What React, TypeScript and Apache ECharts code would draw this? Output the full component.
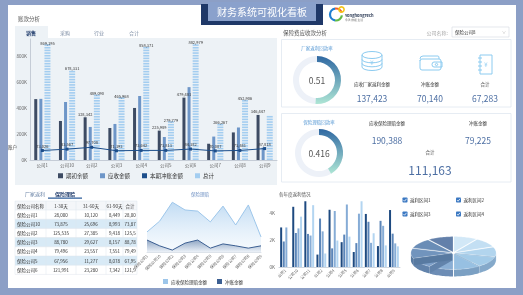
import React, { useEffect, useRef } from 'react';
import * as echarts from 'echarts';

// ---------- data ----------
const mainCats = ['公司1', '公司10', '公司2', '公司3', '公司4', '公司5', '公司6', '公司7', '公司8', '公司9'];
const openingBalance = [468000, 300000, 328342, 246000, 400000, 225989, 479481, 125000, 212000, 346447];
const receivable = [470000, 446000, 254000, 277000, 492000, 177000, 560000, 180000, 250000, 95000];
const totals = [869195, 678331, 489090, 465968, 858371, 279779, 882979, 266267, 452906, 330000];
const writeOff = [73026, 83567, 97708, 71193, 73642, 73813, 84182, 70007, 73441, 87818];
const openingLabeled = [2, 5, 6, 9];
const totalHidden = [9];

const claimCats = ['保险公司1', '保险公司10', '保险公司2', '保险公司3', '保险公司4', '保险公司5', '保险公司6', '保险公司7', '保险公司8', '保险公司9'];
const claimReceivable = [52000, 80000, 129000, 109000, 106000, 78000, 119000, 70000, 122000, 39000];
const claimWriteOff = [31000, 16000, 5000, 23000, 31000, 10000, 21000, 16000, 10000, 16000];

const rebateCats = ['公司1', '公司10', '公司11', '公司2', '公司4', '公司5', '公司6', '公司7', '公司8', '公司9'];
const rebate1 = [2930, 4460, 4870, 920, 4240, 1840, 1110, 3930, 1550, 4220];
const rebate2 = [1890, 2520, 2450, 3590, 1380, 2400, 1770, 3350, 3420, 2470];
const rebate3 = [2930, 2860, 2330, 2640, 4150, 4630, 3950, 1790, 3050, 1750];
const rebate4 = [0, 3730, 4580, 1000, 1960, 2250, 4870, 2500, 1600, 1530];
const rebateNames = ['返利区间1', '返利区间2', '返利区间3', '返利区间4'];

const pieValues = [33, 35, 36, 39, 37, 34, 36, 37, 37, 36];

const rebateRate = 0.51;
const claimRate = 0.416;
const rebateCard = [137423, 70140, 67283];
const claimCard = [190388, 79225, 111163];

const tableHeader = ['保险公司名称', '1-30天', '31-60天', '61-90天', '合计'];
const tableNames = ['保险公司1', '保险公司10', '保险公司2', '保险公司3', '保险公司4', '保险公司5', '保险公司6'];
const age1to30 = [28000, 73875, 125535, 88780, 79496, 67956, 121991];
const age31to60 = [10120, 25696, 27385, 29627, 23557, 11277, 23280];
const age61to90 = [8449, 8993, 9418, 8157, 7551, 8078, 7342];
const ageTotal = [28000, 73875, 125535, 88780, 79496, 67956, 121991];

const tabs = ['销售', '采购', '行业', '合计'];

// ---------- helpers ----------
const FONT = '"Noto Sans CJK SC", "Noto Sans", sans-serif';
const fmt = (v: number) => v.toLocaleString('en-US');

let registered = false;
function registerShapes() {
  if (registered) return;
  registered = true;
  try {
    echarts.graphic.registerShape('dbIcon', echarts.graphic.extendPath(
      'M0,4 A10,3.5 0 1,0 20,4 A10,3.5 0 1,0 0,4 Z M0,4 L0,16 A10,3.5 0 0,0 20,16 L20,4 M0,8.3 A10,3.5 0 0,0 20,8.3 M0,12.3 A10,3.5 0 0,0 20,12.3', {}) as any);
    echarts.graphic.registerShape('walletIcon', echarts.graphic.extendPath(
      'M2,4 Q2,1 5,1 L20,1 Q21,1 21,3 L21,4 M2,5 L2,13 Q2,15 4,15 L21,15 Q23,15 23,13 L23,6 Q23,4 21,4 L4,4 Q2,4 2,6 M16,7 L24,7 L24,12 L16,12 Q14,12 14,9.5 Q14,7 16,7 Z', {}) as any);
    echarts.graphic.registerShape('bookIcon', echarts.graphic.extendPath(
      'M3,0 L15,0 L15,19 L3,19 Z M1,3 L5,3 M1,7 L5,7 M1,11 L5,11 M1,15 L5,15', {}) as any);
  } catch (e) {
    // ignore
  }
}

function T(x: number, y: number, text: string, size: number, fill: string, align = 'left', weight: any = 'normal', extra: any = {}) {
  return {
    type: 'text', x, y, silent: true,
    style: {
      text, fill, fontSize: size, fontFamily: FONT, fontWeight: weight,
      align, textAlign: align, verticalAlign: 'middle', textVerticalAlign: 'middle', ...extra,
    },
  };
}

function R(x: number, y: number, w: number, h: number, fill: string, stroke?: string, lw = 0.6) {
  return {
    type: 'rect', silent: true, shape: { x, y, width: w, height: h },
    style: { fill, stroke: stroke || 'none', lineWidth: stroke ? lw : 0 },
  };
}

function buildGraphics() {
  const g: any[] = [];
  // frame
  g.push(R(0, 0, 523, 295, '#8c9fc6'));
  g.push(R(8, 5, 508, 283, '#ffffff'));
  // title
  g.push(R(201, 4, 122, 21, '#1f3868'));
  g.push(R(208, 2, 108, 19, '#8aa1cc'));
  g.push(T(262, 11.5, '财务系统可视化看板', 10, '#ffffff', 'center'));
  // logo
  g.push({ type: 'arc', silent: true, shape: { cx: 336, cy: 14.5, r: 6, startAngle: Math.PI * 0.55, endAngle: Math.PI * 1.45 }, style: { stroke: '#1f7fd0', lineWidth: 2.2, fill: 'none' } });
  g.push({ type: 'arc', silent: true, shape: { cx: 336, cy: 14.5, r: 6, startAngle: Math.PI * 1.45, endAngle: Math.PI * 1.9 }, style: { stroke: '#ee5a2c', lineWidth: 2.2, fill: 'none' } });
  g.push({ type: 'arc', silent: true, shape: { cx: 336, cy: 14.5, r: 6, startAngle: Math.PI * 0.05, endAngle: Math.PI * 0.55 }, style: { stroke: '#62bb46', lineWidth: 2.2, fill: 'none' } });
  g.push({ type: 'circle', silent: true, shape: { cx: 341.5, cy: 9.5, r: 2.6 }, style: { stroke: '#f5c518', lineWidth: 1.6, fill: 'none' } });
  g.push(T(345, 15, 'YonghongTech', 4, '#2b3a55', 'left', 'bold'));
  g.push(T(345, 19.5, '永洪 数据 生活', 2.8, '#777'));

  // left top section
  g.push(T(18, 19, '账款分析', 5.5, '#555'));
  g.push(R(15, 26, 33, 12, '#edf2f6'));
  const tabX = [31, 65, 99, 134];
  tabs.forEach((t, i) => g.push(T(tabX[i], 32.5, t, 5, i === 0 ? '#1f3b6b' : '#7b8ba3', 'center', i === 0 ? 'bold' : 'normal')));
  g.push(R(15, 38, 262, 147, '#edf2f6'));
  g.push(T(8, 147, '账户', 4.5, '#444'));

  // right top section
  g.push(T(283, 33, '保险费应收款分析', 5.5, '#555'));
  g.push(T(448, 32, '公司名称:', 5, '#aaaaaa', 'right'));
  g.push(R(452, 27, 57, 10, '#ffffff', '#d3d9e1'));
  g.push(T(455, 32, '保险公司8', 4.5, '#333'));
  g.push(T(504, 32, '∨', 4, '#aaa', 'center'));

  // cards
  g.push(R(281.5, 39.5, 229.5, 67.5, '#ffffff', '#dfe7f0', 0.8));
  g.push(R(281.5, 113.5, 229.5, 68.5, '#ffffff', '#dfe7f0', 0.8));
  g.push(T(317, 48, '厂家返利回款率', 4.5, '#5b9bd5', 'center'));
  g.push(T(319, 122, '保险理赔回款率', 4.5, '#5b9bd5', 'center'));

  const iconStyle = { fill: 'none', stroke: '#8ccbf0', lineWidth: 1 };
  g.push({ type: 'dbIcon', x: 362, y: 51, silent: true, style: iconStyle });
  g.push(T(372, 62.5, '¥', 6, '#8ccbf0', 'center'));
  g.push({ type: 'walletIcon', x: 418, y: 55, silent: true, style: iconStyle });
  g.push({ type: 'circle', silent: true, shape: { cx: 436.5, cy: 64.5, r: 1.2 }, style: iconStyle });
  g.push({ type: 'bookIcon', x: 477, y: 55, silent: true, style: iconStyle });
  g.push(T(486, 64.5, '¥', 6, '#8ccbf0', 'center'));

  const c1Labels = ['应收厂家返利金额', '冲账金额', '合计'];
  const c1X = [372, 430, 485];
  c1Labels.forEach((l, i) => {
    g.push(T(c1X[i], 84, l, 4.5, '#333', 'center'));
    g.push(T(c1X[i], 97.5, fmt(rebateCard[i]), 8.5, '#4d6fa3', 'center'));
  });
  g.push(T(387, 123, '应收保险理赔金额', 4.5, '#333', 'center'));
  g.push(T(387, 140, fmt(claimCard[0]), 8.5, '#4d6fa3', 'center'));
  g.push(T(478, 123, '冲账金额', 4.5, '#333', 'center'));
  g.push(T(478, 140, fmt(claimCard[1]), 8.5, '#4d6fa3', 'center'));
  g.push(T(430, 152, '合计', 4.5, '#333', 'center'));
  g.push(T(430, 169, fmt(claimCard[2]), 12, '#4d6fa3', 'center'));

  // bottom-left table
  g.push(T(35, 193.5, '厂家返利', 5, '#6d86a8', 'center'));
  g.push(T(65, 193.5, '保险理赔', 5, '#1f3b6b', 'center', 'bold'));
  g.push(R(48, 197.5, 34, 1.3, '#2d5d9a'));
  const top = 201, headH = 9, rowH = 9.2;
  const colX = [15, 46, 76, 106, 123, 137];
  g.push(R(15, top, 122, headH, '#f4f6f9'));
  tableNames.forEach((_, r) => {
    if (r % 2 === 1) g.push(R(15, top + headH + r * rowH, 122, rowH, '#d8eaf6'));
  });
  const tableBottom = top + headH + tableNames.length * rowH;
  for (let r = 0; r <= tableNames.length + 1; r++) {
    const y = r === 0 ? top : top + headH + (r - 1) * rowH;
    g.push({ type: 'line', silent: true, shape: { x1: 15, y1: y, x2: 137, y2: y }, style: { stroke: '#dfe5ec', lineWidth: 0.5 } });
  }
  colX.forEach((x) => g.push({ type: 'line', silent: true, shape: { x1: x, y1: top, x2: x, y2: tableBottom }, style: { stroke: '#dfe5ec', lineWidth: 0.5 } }));
  const colC = [17, 61, 91, 114.5, 130];
  tableHeader.forEach((h, i) => g.push(T(colC[i], top + headH / 2, h, 4.5, '#333', i === 0 ? 'left' : 'center')));
  tableNames.forEach((n, r) => {
    const y = top + headH + r * rowH + rowH / 2;
    g.push(T(17, y, n, 4.5, '#333'));
    g.push(T(61, y, fmt(age1to30[r]), 4.5, '#333', 'center'));
    g.push(T(91, y, fmt(age31to60[r]), 4.5, '#333', 'center'));
    g.push(T(114.5, y, fmt(age61to90[r]), 4.5, '#333', 'center'));
    g.push(T(124.5, y, fmt(ageTotal[r]), 4.5, '#333', 'left', 'normal', { width: 12.5, overflow: 'truncate', ellipsis: '' }));
  });

  // bottom middle / right titles
  g.push(T(200, 194, '保险理赔', 4.5, '#6d8fc2', 'center'));
  g.push(T(279, 194, '各年度返利情况', 4.5, '#555'));

  // checkboxes
  const cbPos = [[402.5, 197.5], [456, 197.5], [402.5, 211.5], [456, 211.5]];
  rebateNames.forEach((n, i) => {
    const [x, y] = cbPos[i];
    g.push({ type: 'rect', silent: true, shape: { x, y, width: 5, height: 5, r: 0.8 }, style: { fill: '#3b78c2' } });
    g.push({ type: 'polyline', silent: true, shape: { points: [[x + 1, y + 2.6], [x + 2.1, y + 3.7], [x + 4, y + 1.3]] }, style: { stroke: '#fff', lineWidth: 0.8, fill: 'none' } });
    g.push(T(x + 7.5, y + 2.6, n, 4.5, '#333'));
  });
  return g;
}

const PIE_CX = 453.5, PIE_CY = 253, PIE_RX = 41, PIE_RY = 15.5, PIE_H = 7, EXPLODE = 1.6;
const pieTopColors = ['#d2e8f7', '#c3dff3', '#b2d5ee', '#a3cbe8', '#97c0e2', '#8aaed4', '#7d9fc8', '#7194bd', '#6a8db6', '#6380aa'];
const pieSideColors = ['#a9c6de', '#9cbcd8', '#8fb2d1', '#85a9ca', '#7ba0c3', '#6d8db5', '#6283ab', '#587aa1', '#52729a', '#4d6b92'];

function buildOption() {
  const pieTotal = pieValues.reduce((a, b) => a + b, 0);
  const pieStart: number[] = [];
  pieValues.reduce((acc, v, i) => { pieStart[i] = acc; return acc + v; }, 0);

  const gaugeBase = (center: number[], value: number, text: string) => ({
    type: 'gauge', center, radius: 24, startAngle: 90, endAngle: -270, min: 0, max: 1,
    pointer: { show: false }, axisTick: { show: false }, splitLine: { show: false }, axisLabel: { show: false },
    title: { show: false }, anchor: { show: false },
    axisLine: { lineStyle: { width: 6, color: [[1, '#edf1f8']] } },
    progress: {
      show: true, width: 6,
      itemStyle: {
        color: new echarts.graphic.LinearGradient(0, 0, 0, 1, [
          { offset: 0, color: '#2f68a2' }, { offset: 1, color: '#aee6d5' },
        ]),
      },
    },
    detail: { show: true, formatter: () => text, fontSize: 8.5, color: '#555', offsetCenter: [0, 0], fontFamily: FONT, fontWeight: 'normal' },
    data: [{ value }],
  });

  const smallAxisLabel = { fontSize: 4.5, color: '#666', fontFamily: FONT };

  return {
    animation: false,
    textStyle: { fontFamily: FONT },
    graphic: { elements: buildGraphics() },
    legend: [
      {
        data: ['期初余额', '应收金额', '本期冲账金额', '总计'], left: 58, top: 173, icon: 'rect',
        itemWidth: 5, itemHeight: 5, itemGap: 12, textStyle: { fontSize: 5.5, color: '#333', padding: [0, 0, 0, -2] },
        padding: 0,
      },
      {
        data: ['应收保险理赔金额', '冲账金额'], left: 163, top: 279, icon: 'rect',
        itemWidth: 5, itemHeight: 5, itemGap: 10, textStyle: { fontSize: 4.5, color: '#333', padding: [0, 0, 0, -2] },
        padding: 0,
      },
    ],
    grid: [
      { left: 30, right: 246, top: 39, bottom: 135 },
      { left: 147, right: 262, top: 198, bottom: 43 },
      { left: 279, right: 123, top: 199.5, bottom: 28 },
    ],
    xAxis: [
      {
        type: 'category', gridIndex: 0, data: mainCats,
        axisLine: { lineStyle: { color: '#c5ccd6' } }, axisTick: { show: false },
        axisLabel: { ...smallAxisLabel, margin: 3 },
      },
      {
        type: 'category', gridIndex: 1, data: claimCats, boundaryGap: false,
        axisLine: { lineStyle: { color: '#dde3ea' } }, axisTick: { show: false },
        axisLabel: { fontSize: 4, color: '#666', rotate: 45, margin: 3, interval: 0 },
      },
      {
        type: 'category', gridIndex: 2, data: rebateCats,
        axisLine: { lineStyle: { color: '#d0d6de' } }, axisTick: { show: false },
        axisLabel: { fontSize: 4, color: '#666', rotate: 45, margin: 2.5, interval: 0 },
      },
    ],
    yAxis: [
      {
        type: 'value', gridIndex: 0, min: 0, max: 930000, interval: 200000,
        axisLine: { show: true, lineStyle: { color: '#c5ccd6' } }, splitLine: { show: false },
        axisLabel: { ...smallAxisLabel, margin: 3, showMaxLabel: false, formatter: (v: number) => v / 1000 + 'K' },
      },
      { type: 'value', gridIndex: 1, min: 0, max: 140000, show: false },
      {
        type: 'value', gridIndex: 2, min: 0, max: 5000, interval: 2000,
        axisLine: { show: false }, splitLine: { show: false }, axisTick: { show: false },
        axisLabel: { ...smallAxisLabel, margin: 4, showMaxLabel: false, formatter: (v: number) => v / 1000 + 'K' },
      },
    ],
    series: [
      {
        name: '期初余额', type: 'bar', xAxisIndex: 0, yAxisIndex: 0, barWidth: 3, barGap: '70%',
        itemStyle: { color: '#3d4b63' },
        data: openingBalance.map((v, i) => ({
          value: v,
          label: { show: openingLabeled.includes(i), position: 'top', distance: 1.5, fontSize: 4, color: '#333', formatter: fmt(v) },
        })),
      },
      {
        name: '应收金额', type: 'bar', xAxisIndex: 0, yAxisIndex: 0, barWidth: 3, barGap: '70%',
        itemStyle: { color: '#6e96c8' }, data: receivable,
      },
      {
        name: '总计标签', type: 'bar', xAxisIndex: 0, yAxisIndex: 0, barWidth: 6, barGap: '70%',
        itemStyle: { color: 'rgba(0,0,0,0)' },
        data: totals.map((v, i) => ({
          value: v,
          label: { show: !totalHidden.includes(i), position: 'top', distance: 1.5, fontSize: 4, color: '#333', formatter: fmt(v) },
        })),
      },
      {
        name: '总计', type: 'pictorialBar', xAxisIndex: 0, yAxisIndex: 0, barWidth: 6,
        symbol: 'rect', symbolRepeat: true, symbolSize: [6, 1.6], symbolMargin: 0.55, symbolOffset: [5.1, 0],
        symbolPosition: 'start', itemStyle: { color: '#a3cdf0' }, data: totals, z: 1,
      },
      {
        name: '本期冲账金额', type: 'line', xAxisIndex: 0, yAxisIndex: 0, data: writeOff,
        symbol: 'rect', symbolSize: 3, lineStyle: { width: 1, color: '#1c4e8b' }, itemStyle: { color: '#1c4e8b' },
        label: { show: true, position: 'top', distance: 1.5, fontSize: 4, color: '#333', formatter: (p: any) => fmt(p.value) },
        z: 5,
      },
      {
        name: '应收保险理赔金额', type: 'line', xAxisIndex: 1, yAxisIndex: 1, data: claimReceivable,
        symbol: 'none', lineStyle: { width: 1, color: '#9dc6ea' }, itemStyle: { color: '#9dc6ea' },
        areaStyle: {
          color: new echarts.graphic.LinearGradient(0, 0, 0, 1, [
            { offset: 0, color: 'rgba(150,195,235,0.85)' }, { offset: 1, color: 'rgba(225,238,250,0.4)' },
          ]),
        },
      },
      {
        name: '冲账金额', type: 'line', xAxisIndex: 1, yAxisIndex: 1, data: claimWriteOff,
        symbol: 'none', lineStyle: { width: 1, color: '#3c5f92' }, itemStyle: { color: '#3c5f92' },
        areaStyle: {
          color: new echarts.graphic.LinearGradient(0, 0, 0, 1, [
            { offset: 0, color: 'rgba(60,95,146,0.75)' }, { offset: 1, color: 'rgba(60,95,146,0.08)' },
          ]),
        },
      },
      ...[rebate1, rebate2, rebate3, rebate4].map((d, i) => ({
        name: rebateNames[i], type: 'bar', xAxisIndex: 2, yAxisIndex: 2, data: d, barWidth: 2, barGap: '30%',
        itemStyle: { color: ['#1e4a80', '#5b85b8', '#86acd6', '#b3d5f1'][i] },
      })),
      gaugeBase([317, 80], rebateRate, String(rebateRate)),
      gaugeBase([319, 153], claimRate, String(claimRate)),
      {
        type: 'custom', coordinateSystem: 'none', silent: true,
        data: pieValues.map((v, i) => [i, v]),
        renderItem: (params: any, api: any) => {
          const i = params.dataIndex;
          const v = api.value(1);
          const a0 = (pieStart[i] / pieTotal) * Math.PI * 2;
          const a1 = ((pieStart[i] + v) / pieTotal) * Math.PI * 2;
          const mid = (a0 + a1) / 2;
          const cx = PIE_CX + Math.sin(mid) * EXPLODE;
          const cy = PIE_CY - Math.cos(mid) * EXPLODE * 0.6;
          const pt = (a: number, dy = 0) => [cx + PIE_RX * Math.sin(a), cy - PIE_RY * Math.cos(a) + dy];
          const steps = 16;
          const children: any[] = [];
          const s0 = Math.max(a0, Math.PI / 2);
          const s1 = Math.min(a1, Math.PI * 1.5);
          if (s1 > s0) {
            const side: number[][] = [];
            for (let k = 0; k <= steps; k++) side.push(pt(s0 + ((s1 - s0) * k) / steps));
            for (let k = steps; k >= 0; k--) side.push(pt(s0 + ((s1 - s0) * k) / steps, PIE_H));
            children.push({ type: 'polygon', shape: { points: side }, style: { fill: pieSideColors[i] } });
          }
          // cut faces visible at the front
          [a0, a1].forEach((a) => {
            const p = pt(a);
            if (p[1] > cy - 2) {
              children.push({
                type: 'polygon',
                shape: { points: [[cx, cy], p, [p[0], p[1] + PIE_H], [cx, cy + PIE_H]] },
                style: { fill: pieSideColors[i] },
              });
            }
          });
          const topPts: number[][] = [[cx, cy]];
          for (let k = 0; k <= steps; k++) topPts.push(pt(a0 + ((a1 - a0) * k) / steps));
          children.push({
            type: 'polygon', shape: { points: topPts },
            style: { fill: pieTopColors[i], stroke: 'rgba(255,255,255,0.5)', lineWidth: 0.4 },
          });
          return { type: 'group', children };
        },
      },
    ],
  };
}

export default function App() {
  const ref = useRef<HTMLDivElement>(null);
  useEffect(() => {
    registerShapes();
    const chart = echarts.init(ref.current!, null, { renderer: 'svg' });
    chart.setOption(buildOption() as any);
    return () => chart.dispose();
  }, []);
  return <div ref={ref} style={{ position: 'fixed', left: 0, top: 0, width: 523, height: 295 }} />;
}
